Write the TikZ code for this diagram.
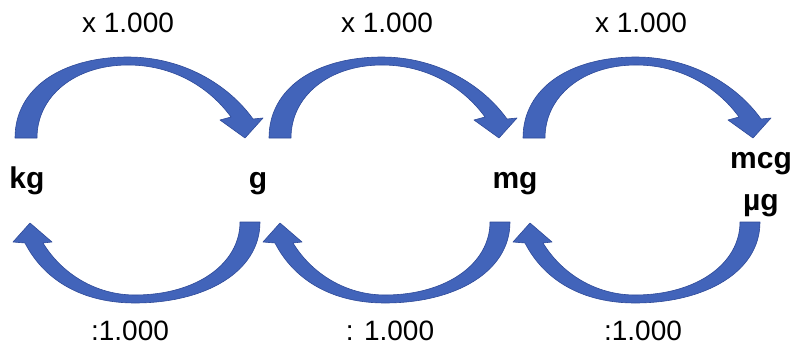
\documentclass[tikz,border=0pt]{standalone}
\usepackage{fontspec}
\setmainfont{Liberation Sans}
\usepackage{xcolor}
\definecolor{arrowblue}{RGB}{66,100,186}
\definecolor{arrowedge}{RGB}{46,74,152}

\begin{document}
\begin{tikzpicture}[
  x=1pt, y=-1pt,
  unit/.style={font=\fontsize{30}{32}\selectfont\bfseries, inner sep=0pt, anchor=base},
  factor/.style={font=\fontsize{28}{30}\selectfont, inner sep=0pt, anchor=base},
  blk/.style={fill=arrowblue, draw=arrowedge, line width=0.6pt, line join=round},
  overarc/.pic={
    \path[blk] (15,138) .. controls (15,88) and (62,57) .. (128,57)
      .. controls (182,57) and (228,84) .. (253,119) -- (263,118) -- (245,138)
      -- (220,120) -- (231,117) .. controls (210,88) and (174,65) .. (128,65)
      .. controls (75,65) and (37,96) .. (37,138) -- cycle;
  },
  underarc/.pic={
    \path[blk] (260,222) .. controls (260,272) and (205,303) .. (135,303)
      .. controls (82,303) and (44,280) .. (25,243) -- (13,242) -- (30,223)
      -- (52,242) -- (43,243) .. controls (62,274) and (96,295) .. (135,295)
      .. controls (196,295) and (240,264) .. (240,222) -- cycle;
  },
]
  \useasboundingbox (0,0) rectangle (800,345);

  %% Units
  \node[unit] (kg)  at (27,188)  {kg};
  \node[unit] (g)   at (258,188) {g};
  \node[unit] (mg)  at (515,188) {mg};
  \node[unit] (mcg) at (761,168) {mcg};
  \node[unit] (ug)  at (761,210) {µg};

  %% Multiply arrows on top
  \pic (up1) at (0,0)   {overarc};
  \pic (up2) at (254,0) {overarc};
  \pic (up3) at (508,0) {overarc};
  \node[factor] (mul1) at (128,33) {x 1.000};
  \node[factor] (mul2) at (387,33) {x 1.000};
  \node[factor] (mul3) at (641,33) {x 1.000};

  %% Divide arrows below
  \pic (dn1) at (0,0)   {underarc};
  \pic (dn2) at (250,0) {underarc};
  \pic (dn3) at (500,0) {underarc};
  \node[factor] (div1) at (130,340) {:1.000};
  \node[factor] (div2) at (390,340) {: 1.000};
  \node[factor] (div3) at (643,340) {:1.000};
\end{tikzpicture}
\end{document}
